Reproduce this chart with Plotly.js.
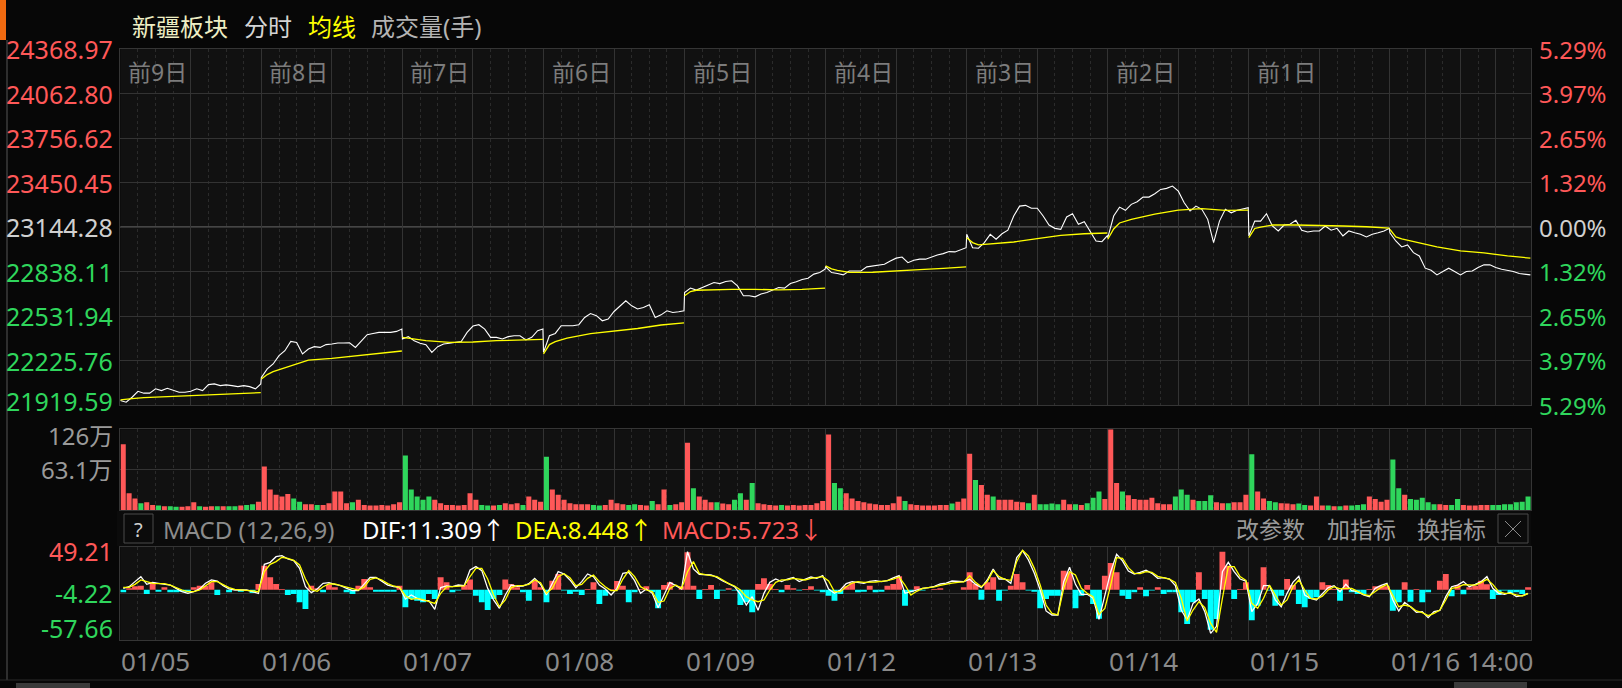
<!DOCTYPE html>
<html><head><meta charset="utf-8">
<script src="https://cdn.plot.ly/plotly-3.0.1.min.js"></script>
<style>html,body{margin:0;padding:0;background:#070707;overflow:hidden}#chart{width:1622px;height:688px}</style>
</head><body><div id="chart"></div>
<script>
// ---------- labels ----------
const dayTags = ['前9日','前8日','前7日','前6日','前5日','前4日','前3日','前2日','前1日'];
const dateTicks = ['01/05','01/06','01/07','01/08','01/09','01/12','01/13','01/14','01/15','01/16 14:00'];
const priceTicks = [24368.97,24062.80,23756.62,23450.45,23144.28,22838.11,22531.94,22225.76,21919.59];
const priceTickText = ['24368.97','24062.80','23756.62','23450.45','23144.28','22838.11','22531.94','22225.76','21919.59'];
const pctTickText = ['5.29%','3.97%','2.65%','1.32%','0.00%','1.32%','2.65%','3.97%','5.29%'];
const volTicks = [126, 63.1];
const volTickText = ['126万','63.1万'];
const macdTicks = [49.21, -4.22, -57.66];
const macdTickText = ['49.21','-4.22','-57.66'];
const macdHeader = {dif:'11.309', dea:'8.448', macd:'5.723'};
// direction of each day's opening-minute volume bar (1 = up/red, 0 = down/green)
const openBarUp = [1,1,0,0,1,1,1,1,0,0];

// ---------- price, sampled every 10 minutes (25 per day) ----------
const price = [
 21950,21939,21973,22014,22001,22001,22031,22019,22035,22019,22007,22007,22014,22031,22019,22060,22065,22053,22058,22053,22046,22053,22046,22031,22065,
 22110,22168,22202,22259,22293,22357,22350,22271,22305,22321,22316,22335,22339,22346,22346,22348,22316,22362,22403,22412,22419,22419,22419,22426,22442,
 22374,22390,22362,22344,22335,22282,22321,22339,22344,22348,22357,22419,22463,22472,22442,22385,22385,22374,22390,22396,22396,22367,22385,22431,22442,
 22282,22396,22412,22465,22465,22465,22472,22522,22549,22534,22499,22511,22563,22602,22637,22602,22580,22591,22609,22522,22540,22568,22556,22561,22568,
 22693,22724,22710,22728,22744,22762,22755,22769,22774,22739,22671,22671,22664,22683,22693,22710,22728,22724,22755,22767,22783,22792,22820,22831,22854,
 22870,22831,22824,22815,22842,22842,22842,22870,22877,22881,22888,22911,22930,22938,22899,22916,22923,22923,22938,22952,22961,22975,22973,22991,23002,
 23094,23002,22998,23037,23094,23060,23098,23122,23220,23288,23293,23273,23273,23220,23158,23135,23128,23213,23236,23163,23181,23117,23048,23043,23083,
 23071,23220,23281,23259,23300,23318,23350,23350,23373,23403,23410,23426,23391,23311,23254,23288,23266,23197,23037,23185,23266,23242,23259,23266,23277,
 23083,23185,23185,23236,23151,23117,23158,23163,23190,23122,23110,23117,23117,23151,23122,23135,23083,23117,23105,23094,23076,23094,23105,23117,23135,
 23105,23048,23007,23021,22968,22945,22861,22847,22815,22838,22861,22838,22815,22838,22842,22865,22884,22884,22865,22854,22847,22838,22824,22820,22815
];
// average price line, 9 samples per day at these 10-minute steps
const avgSampleSteps = [0,1,2,4,8,12,16,20,24];
const avgPrice = [
 21955,21961,21964,21971,21978,21985,21992,21998,22005,
 22099,22129,22149,22177,22228,22241,22259,22273,22291,
 22385,22379,22372,22362,22350,22353,22362,22367,22371,
 22271,22335,22355,22379,22410,22427,22446,22470,22484,
 22671,22700,22709,22712,22715,22715,22712,22715,22724,
 22877,22856,22846,22832,22833,22840,22851,22860,22870,
 23071,23037,23021,23026,23041,23064,23087,23098,23103,
 23060,23131,23172,23196,23233,23261,23271,23259,23261,
 23071,23134,23144,23158,23158,23156,23151,23146,23137,
 23128,23076,23062,23043,23007,22980,22966,22945,22930
];
// volume (万手), 10-minute bins, 24 per day
const volume = [
 102.6,26,18,10.5,12,8,7,6,6,5,5,6,12,6,5,6,6,6,6,6,7,8,9,13,
 68,32,24,21,25,18,13,9,9,8,8,10.5,29,29,10.5,12,16,8,7,7,8,7,9,12,
 85,32,21,16,21,16,10.5,8,8,7,8,26,16,8,7,7,8,10.5,9,10.5,8,21,16,13,
 83,32,24,16,10.5,9,9,9,8,7,8,16,10.5,9,8,9,8,7,14,9,32,8,9,12,
 105,34,21,16,12,12,10,9,16,26,16,42,10.5,9,8,7,8,7,8,7,8,8,10.5,14,
 118,42,34,26,18,14,12,10,9,8,8,10.5,21,14,9,8,7,7,7,8,8,10,13,18,
 88,47,39,24,21,16,16,16,13,12,10.5,24,9,9,10,9,16,9,9,8,10.5,19,29,17,
 126,42,29,23,17,16,16,19,10.5,9,9,21,32,24,16,14,14,23,12,10.5,10.5,12,12,24,
 87,29,18,14,12,10.5,10,9,10,8,7,21,7,7,6,6,7,7,8,9,21,17,13,16,
 79,34,24,17,16,19,12,9,9,8,8,17,8,7,7,8,8,8,8,9,9,12,13,21
];
// MACD (12,26,9), 10-minute bins, 24 per day
const dif = [
 1.5,3.4,9.2,14.9,6.1,8.4,7.3,6.1,5.3,1.5,-2.3,-4.2,-2.3,0.8,7.3,11.1,9.9,4.6,0.8,-0.4,-0.4,-0.4,-2.3,-4.2,
 29.0,31.3,37.8,39.0,35.1,33.2,24.4,3.4,-3.4,0.8,7.3,8.0,6.1,4.6,1.5,-1.1,-1.1,6.1,14.1,14.1,9.9,5.3,3.4,2.7,
 -10.7,-6.1,-9.9,-12.6,-12.6,-22.5,2.3,4.2,3.4,5.3,4.6,22.5,26.4,21.8,1.5,-11.8,-21.4,-6.1,5.3,3.8,4.2,6.9,13.0,6.1,
 -6.1,7.3,20.6,18.0,11.1,2.3,9.2,18.0,14.9,5.3,0.8,-6.1,1.5,18.7,19.9,10.3,-4.2,0.8,-4.2,-20.6,-6.1,8.4,4.6,0.8,
 43.5,23.7,17.6,17.2,16.8,14.1,9.9,6.9,3.4,-5.3,-17.6,-8.0,-23.7,-4.2,8.4,12.2,9.2,12.2,14.1,9.2,11.5,14.5,13.0,16.0,
 0.8,-4.2,-0.4,6.9,9.2,8.4,7.3,9.6,10.3,9.2,10.3,13.4,16.0,-4.2,-2.3,0.4,1.5,2.3,3.8,6.5,7.6,9.9,9.2,9.2,
 11.8,6.1,2.3,11.1,23.7,12.2,12.2,7.3,36.7,44.7,34.0,18.7,-0.4,-24.4,-29.0,-29.0,9.2,25.6,6.1,-5.3,-5.3,-9.9,-34.0,-6.1,
 20.6,40.5,32.9,21.4,18.0,19.9,22.2,18.7,13.0,13.8,12.2,4.6,-23.3,-34.8,-15.7,-10.7,-25.2,-50.0,-42.0,20.6,31.3,20.6,12.2,9.9,
 -25.2,-15.7,4.6,4.6,-11.8,-19.5,-4.2,8.4,15.3,-6.1,-9.9,-11.8,-5.3,2.3,4.6,-2.3,6.1,-1.1,-2.3,-6.1,-8.0,1.5,5.0,7.3,
 -11.8,-24.4,-14.5,-19.5,-26.0,-25.2,-32.1,-25.2,-23.7,-8.0,3.4,5.3,9.2,3.4,6.1,9.2,14.9,1.5,-4.2,-5.3,-3.1,-8.0,-6.9,-4.2
];
const dea = [
 2.7,2.7,6.1,11.1,9.2,7.3,6.9,6.9,5.3,2.3,-0.4,-2.3,-2.3,-0.4,4.6,9.2,9.2,6.1,2.3,0.4,0,-0.8,-1.5,-2.3,
 20.6,29.0,32.1,37.1,35.9,33.6,28.3,12.2,0,-1.9,3.4,6.5,6.5,4.6,2.7,0.8,-0.4,3.1,11.8,13.4,11.1,6.9,4.2,2.7,
 -6.9,-11.1,-9.9,-11.5,-13.8,-15.7,-4.2,3.1,3.4,4.2,4.2,14.9,24.4,24.4,12.2,-6.1,-19.5,-11.8,2.3,4.6,4.6,6.1,11.1,8.0,
 -4.2,1.5,14.9,18.3,13.8,4.6,6.1,13.0,16.8,9.2,3.4,-1.1,-1.1,12.2,21.8,14.9,3.4,-0.4,-2.3,-14.5,-13.0,1.5,5.3,1.5,
 20.6,32.1,18.7,17.2,16.0,14.9,11.1,6.9,4.2,-0.4,-8.0,-11.8,-13.8,-11.8,-0.4,8.4,11.1,11.1,13.0,12.2,11.1,13.0,14.1,14.9,
 9.9,-2.3,-2.3,3.4,7.6,9.2,8.4,8.4,8.8,9.6,10.3,12.2,14.5,5.3,-6.1,-1.9,1.5,2.3,3.1,5.0,6.5,7.6,8.4,8.8,
 16.0,8.4,3.4,9.2,21.8,14.9,11.8,10.7,32.1,45.1,38.6,24.4,5.3,-17.6,-27.1,-29.0,1.5,20.6,16.8,1.5,-4.2,-8.0,-28.3,-21.4,
 5.3,36.7,35.9,25.2,18.7,18.3,20.6,19.9,15.3,13.8,12.2,8.4,-9.9,-35.9,-23.3,-13.8,-20.6,-38.6,-48.9,-9.9,26.4,26.4,14.9,10.7,
 -15.7,-21.4,-9.9,5.3,-6.9,-17.6,-11.8,3.4,11.1,-0.4,-9.9,-10.7,-7.6,-0.4,3.4,0.8,1.5,1.5,-1.9,-5.3,-6.9,-2.3,2.7,6.1,
 -6.9,-19.5,-17.6,-19.5,-24.4,-26.4,-29.8,-27.1,-23.3,-11.8,1.5,2.7,5.7,5.3,5.3,8.0,11.8,6.1,-2.3,-4.2,-4.2,-6.1,-7.3,-4.6
];
const macdBar = [
 -3.1,1.5,3.8,4.6,-5.0,8.4,-2.3,2.7,-3.1,-3.1,-2.3,-3.1,2.7,4.6,4.6,8.4,-6.1,0,-3.1,0,-2.3,0,-3.8,6.5,
 27.5,14.1,6.5,0.8,-6.1,-5.0,-14.5,-22.2,4.6,1.5,-3.1,5.3,2.7,0,-3.1,-5.0,4.6,12.2,2.7,-2.3,-2.3,-2.3,-2.3,4.6,
 -20.2,-10.7,-12.6,-14.5,-5.0,-10.7,14.1,8.4,-3.1,-1.1,5.3,11.5,-6.9,-14.5,-23.3,-10.7,-6.1,11.5,6.5,2.7,-3.1,-12.6,10.3,2.7,
 -14.5,10.3,18.0,-1.1,-5.0,-2.3,-6.1,0.8,8.4,-16.4,-6.9,0.8,9.9,4.6,-14.5,-3.1,0.8,3.8,-3.1,-21.4,5.3,8.4,0,3.8,
 42.8,4.6,-10.7,0.8,5.3,-10.7,-1.1,1.5,-1.1,-17.6,-14.5,-26.0,6.5,13.0,6.5,0.8,-3.1,5.3,1.5,-1.1,0.8,3.8,-1.1,-3.1,
 -6.9,-12.6,-5.0,3.8,7.6,-3.1,-2.3,4.6,-3.1,-2.3,4.6,6.5,15.3,-18.3,-3.1,3.8,-1.1,0,0.8,1.5,0,0,0,2.7,
 19.9,6.5,-11.5,8.4,14.1,-12.6,-1.1,4.6,18.0,8.4,-1.1,-2.3,-21.4,-10.7,-6.9,-6.9,21.8,19.9,-21.4,-6.9,5.3,-16.4,-33.2,16.0,
 30.6,19.9,-6.9,-10.7,-3.1,2.7,-7.6,-1.1,2.7,-5.0,-3.1,-3.1,-26.0,-39.3,-14.5,19.9,-10.7,-46.0,-33.6,43.5,27.5,-10.7,0.8,8.4,
 -35.1,-18.3,25.6,-1.1,-18.3,-6.9,12.2,5.3,-16.4,-20.2,-10.7,-8.8,8.4,5.3,0.8,-12.6,11.5,-3.1,-5.0,-5.0,0.8,3.8,4.6,3.8,
 -24.1,-14.5,8.4,-13.8,0.8,-14.5,-3.1,0,10.3,18.0,-7.6,5.3,-5.3,2.7,4.6,10.3,6.1,-10.7,-6.1,-1.1,-5.0,-3.1,-5.0,2.7
];

// ---------- geometry / styling ----------
const W = 1622, H = 688;
const PX = v => v / W, PY = v => 1 - v / H;
const DAY = 240, NDAY = 10, STEP = 10, PER = 25, BINS = 24;
const RED = '#ff5858', GREEN = '#2fd65c', CYAN = '#00ffff';
const FONT = 'Noto Sans, Noto Sans CJK SC, sans-serif';
const minuteOf = k => Math.min(k * STEP, DAY - 1);

const priceX = [];
for (let d = 0; d < NDAY; d++) for (let k = 0; k < PER; k++) priceX.push(d * DAY + minuteOf(k));
const avgX = [], avgY = [];
for (let d = 0; d < NDAY; d++) {
  avgSampleSteps.forEach((k, j) => { avgX.push(d * DAY + minuteOf(k)); avgY.push(avgPrice[d * avgSampleSteps.length + j]); });
  avgX.push(d * DAY + DAY - 0.5); avgY.push(null);
}
const binX = [], volColors = [];
for (let d = 0; d < NDAY; d++) for (let k = 0; k < BINS; k++) {
  binX.push(d * DAY + k * STEP + STEP / 2);
  const up = k === 0 ? openBarUp[d] === 1 : price[d * PER + k + 1] >= price[d * PER + k];
  volColors.push(up ? RED : GREEN);
}
const histColors = macdBar.map(v => v >= 0 ? RED : CYAN);

const majorX = [], minorX = [];
for (let d = 0; d <= NDAY; d++) majorX.push(d * DAY);
for (let d = 0; d < NDAY - 1; d++) majorX.push(d * DAY + DAY / 2);
[60, 120, 180].forEach(m => majorX.push((NDAY - 1) * DAY + m));
for (let m = 0; m <= NDAY * DAY; m += 30) if (!majorX.includes(m)) minorX.push(m);

const GRID = '#333333', LINE = '#353535';
const xBase = {
  range: [0, NDAY * DAY], domain: [PX(120.3), PX(1531)], showticklabels: false, ticks: '',
  tickmode: 'array', tickvals: majorX, showgrid: true, gridcolor: GRID, gridwidth: 1,
  zeroline: false, showline: true, mirror: true, linecolor: LINE, linewidth: 1, fixedrange: true,
  minor: {tickmode: 'array', tickvals: minorX, showgrid: true, gridcolor: '#2b2b2b', griddash: 'dot', gridwidth: 1, ticks: ''}
};
const yBase = {showticklabels: false, ticks: '', showgrid: true, gridcolor: GRID, gridwidth: 1, zeroline: false,
  showline: true, mirror: true, linecolor: LINE, linewidth: 1, fixedrange: true, tickmode: 'array'};

const traces = [
  {type: 'scatter', mode: 'lines', x: priceX, y: price, xaxis: 'x', yaxis: 'y', line: {color: '#ffffff', width: 1.1}, hoverinfo: 'skip'},
  {type: 'scatter', mode: 'lines', x: avgX, y: avgY, xaxis: 'x', yaxis: 'y', line: {color: '#ffff00', width: 1.3}, connectgaps: false, hoverinfo: 'skip'},
  {type: 'bar', x: binX, y: volume, width: 8.6, marker: {color: volColors, line: {width: 0}}, xaxis: 'x2', yaxis: 'y2', hoverinfo: 'skip'},
  {type: 'bar', x: binX, y: macdBar, width: 10, marker: {color: histColors, line: {width: 0}}, xaxis: 'x3', yaxis: 'y3', hoverinfo: 'skip'},
  {type: 'scatter', mode: 'lines', x: binX, y: dif, xaxis: 'x3', yaxis: 'y3', line: {color: '#ffffff', width: 1.3}, hoverinfo: 'skip'},
  {type: 'scatter', mode: 'lines', x: binX, y: dea, xaxis: 'x3', yaxis: 'y3', line: {color: '#ffff00', width: 1.3}, hoverinfo: 'skip'}
];

const ann = [];
const txt = (text, x, y, color, size, opts) => ann.push(Object.assign({text, x, y, xref: 'paper', yref: 'paper', showarrow: false,
  xanchor: 'left', yanchor: 'middle', font: {family: FONT, size, color}}, opts || {}));

// title row
txt('新疆板块', PX(130), PY(27), '#eeeec4', 24);
txt('分时', PX(242), PY(27), '#d4d4d4', 24);
txt('均线', PX(306), PY(27), '#ffff00', 24);
txt('成交量(手)', PX(369), PY(27), '#b4b4b4', 24);
// day tags
dayTags.forEach((t, d) => txt(t, d * DAY, PY(72), '#7c7c7c', 23, {xref: 'x', xshift: 6}));
// price + pct labels
priceTicks.forEach((v, i) => {
  const c = i < 4 ? RED : (i === 4 ? '#d0d0d0' : GREEN);
  txt(priceTickText[i], PX(115.5), v, c, 25, {yref: 'y', xanchor: 'right', yshift: i === 8 ? 4 : 0});
  txt(pctTickText[i], PX(1537), v, c, 24, {yref: 'y'});
});
// volume labels
volTicks.forEach((v, i) => txt(volTickText[i], PX(115.5), v, '#9a9a9a', 24, {yref: 'y2', xanchor: 'right', yshift: i === 0 ? -6 : 0}));
// macd labels
macdTicks.forEach((v, i) => txt(macdTickText[i], PX(115.5), v, i === 0 ? RED : GREEN, 25,
  {yref: 'y3', xanchor: 'right', yshift: i === 0 ? -4 : (i === 2 ? 12 : 0)}));
// date labels
dateTicks.forEach((t, d) => txt(t, d * DAY, PY(661), '#8a8a8a', 26, {xref: 'x3', xshift: -1}));
// MACD header
txt('?', PX(138.5), PY(529), '#d0d0d0', 20, {xanchor: 'center'});
txt('MACD (12,26,9)', PX(161), PY(529), '#8c8c8c', 24);
txt('DIF:' + macdHeader.dif + '↑', PX(360), PY(529), '#ffffff', 24);
txt('DEA:' + macdHeader.dea + '↑', PX(513), PY(529), '#ffff00', 24);
txt('MACD:' + macdHeader.macd + '↓', PX(660), PY(529), RED, 24);
txt('改参数', PX(1234), PY(529), '#9a9a9a', 23);
txt('加指标', PX(1325), PY(529), '#9a9a9a', 23);
txt('换指标', PX(1415), PY(529), '#9a9a9a', 23);

const rect = (x0, y0, x1, y1, fill, line) => ({type: 'rect', xref: 'paper', yref: 'paper', x0: PX(x0), x1: PX(x1), y0: PY(y1), y1: PY(y0),
  fillcolor: fill, line: line || {width: 0}, layer: 'below'});
const shapes = [
  rect(117, 511, 1531, 546, '#0b0b0b'),
  rect(124, 514, 153, 543, 'rgba(0,0,0,0)', {color: '#4a4a4a', width: 1}),
  rect(1498, 514, 1528, 543, 'rgba(0,0,0,0)', {color: '#4a4a4a', width: 1}),
  {type: 'line', xref: 'paper', yref: 'paper', x0: PX(1505), x1: PX(1521), y0: PY(521), y1: PY(537), line: {color: '#8a8a8a', width: 1}},
  {type: 'line', xref: 'paper', yref: 'paper', x0: PX(1521), x1: PX(1505), y0: PY(521), y1: PY(537), line: {color: '#8a8a8a', width: 1}},
  {type: 'line', xref: 'paper', yref: 'y', x0: PX(120.3), x1: PX(1531), y0: priceTicks[4], y1: priceTicks[4], line: {color: '#454545', width: 2}, layer: 'below'},
  rect(0, 0, 6, 40, '#f06a10'),
  {type: 'line', xref: 'paper', yref: 'paper', x0: PX(7), x1: PX(7), y0: PY(40), y1: PY(680), line: {color: '#2e2e2e', width: 2}},
  {type: 'line', xref: 'paper', yref: 'paper', x0: 0, x1: 1, y0: PY(680), y1: PY(680), line: {color: '#2a2a2a', width: 1}},
  rect(16, 683, 90, 688, '#3a3a3a'),
  rect(1454, 682, 1527, 688, '#3a3a3a')
];

const layout = {
  width: W, height: H, margin: {l: 0, r: 0, t: 0, b: 0, pad: 0},
  paper_bgcolor: '#070707', plot_bgcolor: '#111111', showlegend: false, hovermode: false,
  xaxis: Object.assign({}, xBase, {anchor: 'y'}),
  xaxis2: Object.assign({}, xBase, {anchor: 'y2', matches: 'x'}),
  xaxis3: Object.assign({}, xBase, {anchor: 'y3', matches: 'x'}),
  yaxis: Object.assign({}, yBase, {domain: [PY(405), PY(49)], range: [priceTicks[8], priceTicks[0]], tickvals: priceTicks}),
  yaxis2: Object.assign({}, yBase, {domain: [PY(510), PY(429.3)], range: [0, volTicks[0]], tickvals: [volTicks[1]]}),
  yaxis3: Object.assign({}, yBase, {domain: [PY(640), PY(546.7)], range: [macdTicks[2], macdTicks[0]], tickvals: [macdTicks[1]]}),
  annotations: ann, shapes: shapes, font: {family: FONT}
};
Plotly.newPlot('chart', traces, layout, {displayModeBar: false, staticPlot: true});
</script></body></html>
